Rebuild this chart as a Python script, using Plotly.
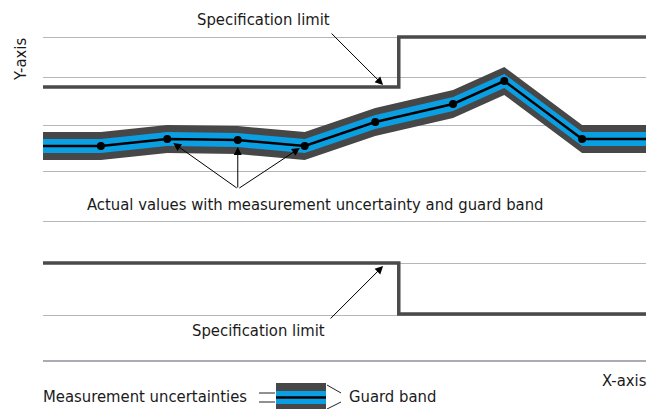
import numpy as np
import plotly.graph_objects as go

# ---- data (x: 0..100 along the X-axis, y: arbitrary units, 0 at the X-axis) ----
meas_x = [0, 9.6, 20.6, 32.3, 43.4, 55.1, 68.0, 76.5, 89.4, 100]
meas_y = [214, 214, 221, 220, 214, 238, 256, 279, 221, 221]
point_x = meas_x[1:-1]
point_y = meas_y[1:-1]
uncertainty = 7      # measurement uncertainty half-width
guard = 14           # guard band half-width

spec_x = [0, 59.0, 100]
spec_upper = [273, 323, 323]
spec_lower = [97, 46, 46]

grid_y = [45, 97, 139, 189, 235, 283, 323]

X_RANGE = [0, 100]
Y_RANGE = [0, 340]

FONT = "DejaVu Sans Condensed, Roboto Condensed, Roboto, sans-serif"
DARK = "#474747"
BLUE = "#0a9fe2"
GRID = "#b3b7bb"

mx = np.array(meas_x, dtype=float)
my = np.array(meas_y, dtype=float)

fig = go.Figure()

# guard band (dark)
fig.add_trace(go.Scatter(x=mx, y=my - guard, mode="lines", line=dict(width=0, color=DARK),
                         hoverinfo="skip"))
fig.add_trace(go.Scatter(x=mx, y=my + guard, mode="lines", line=dict(width=0, color=DARK),
                         fill="tonexty", fillcolor=DARK, hoverinfo="skip"))
# measurement uncertainty (blue)
fig.add_trace(go.Scatter(x=mx, y=my - uncertainty, mode="lines", line=dict(width=0, color=BLUE),
                         hoverinfo="skip"))
fig.add_trace(go.Scatter(x=mx, y=my + uncertainty, mode="lines", line=dict(width=0, color=BLUE),
                         fill="tonexty", fillcolor=BLUE, hoverinfo="skip"))
# actual values line
fig.add_trace(go.Scatter(x=mx, y=my, mode="lines", line=dict(width=2.5, color="black")))
fig.add_trace(go.Scatter(x=point_x, y=point_y, mode="markers",
                         marker=dict(size=8, color="black")))

# specification limits
for sy in (spec_upper, spec_lower):
    fig.add_trace(go.Scatter(x=spec_x, y=sy, mode="lines", line_shape="hv",
                             line=dict(width=3.5, color="#4a4a4a"), cliponaxis=False))

L, R, T, B = 43, 3, 20, 49
W, H = 649, 409
PW, PH = W - L - R, H - T - B


def px(x):
    return (x - L) / PW


def py(y):
    return (H - B - y) / PH


ann = []
txt = dict(font=dict(family=FONT, size=16.5, color="#1a1a1a"), showarrow=False,
           xref="paper", yref="paper", yanchor="middle")
ann.append(dict(text="Specification limit", x=px(263), y=py(19), xanchor="center", **txt))
ann.append(dict(text="Actual values with measurement uncertainty and guard band",
                x=px(315), y=py(204), xanchor="center", **txt))
ann.append(dict(text="Specification limit", x=px(258), y=py(330), xanchor="center", **txt))
ann.append(dict(text="Measurement uncertainties", x=px(41), y=py(396), xanchor="left", **txt))
ann.append(dict(text="Guard band", x=px(347), y=py(396), xanchor="left", **txt))
ann.append(dict(text="X-axis", x=px(649), y=py(380), xanchor="right", **txt))
ann.append(dict(text="Y-axis", x=px(20), y=py(60), xanchor="center", textangle=-90, **txt))

arrow = dict(showarrow=True, arrowhead=2, arrowsize=1.6, arrowwidth=1, arrowcolor="black",
             text="", xref="x", yref="y")
# upper spec limit arrow
ann.append(dict(x=56.4, y=275, ax=-53, ay=-53, **arrow))
# lower spec limit arrow
ann.append(dict(x=56.4, y=94, ax=-54, ay=54, **arrow))
# actual value arrows
ann.append(dict(x=21.6, y=217, ax=65, ay=46, **arrow))
ann.append(dict(x=32.3, y=213, ax=0, ay=42, **arrow))
ann.append(dict(x=42.6, y=212, ax=-62, ay=41, **arrow))

shapes = []
# legend swatch
shapes.append(dict(type="rect", xref="paper", yref="paper", x0=px(276), x1=px(326),
                   y0=py(383), y1=py(414), fillcolor=DARK, line=dict(width=0)))
shapes.append(dict(type="rect", xref="paper", yref="paper", x0=px(276), x1=px(326),
                   y0=py(391), y1=py(404), fillcolor=BLUE, line=dict(width=0)))
shapes.append(dict(type="line", xref="paper", yref="paper", x0=px(276), x1=px(326),
                   y0=py(397.5), y1=py(397.5), line=dict(width=2.5, color="black")))
for yy in (393, 402):
    shapes.append(dict(type="line", xref="paper", yref="paper", x0=px(259), x1=px(275),
                       y0=py(yy), y1=py(yy), line=dict(width=1, color="#222")))
shapes.append(dict(type="line", xref="paper", yref="paper", x0=px(327), x1=px(341),
                   y0=py(385), y1=py(393), line=dict(width=1, color="#222")))
shapes.append(dict(type="line", xref="paper", yref="paper", x0=px(327), x1=px(341),
                   y0=py(409), y1=py(402), line=dict(width=1, color="#222")))

fig.update_layout(
    width=W, height=H,
    margin=dict(l=L, r=R, t=T, b=B),
    paper_bgcolor="white", plot_bgcolor="white",
    showlegend=False,
    annotations=ann,
    shapes=shapes,
    xaxis=dict(range=X_RANGE, showgrid=False, zeroline=False, showticklabels=False, ticks="",
               showline=True, linecolor="#a9adb1", linewidth=2),
    yaxis=dict(range=Y_RANGE, tickvals=grid_y, showgrid=True, gridcolor=GRID, gridwidth=1.3,
               zeroline=False, showticklabels=False, ticks="", showline=False),
)

fig.write_html("out.html", config={"displayModeBar": False},
               post_script="document.body.style.margin='0px';document.body.style.overflow='hidden';")
